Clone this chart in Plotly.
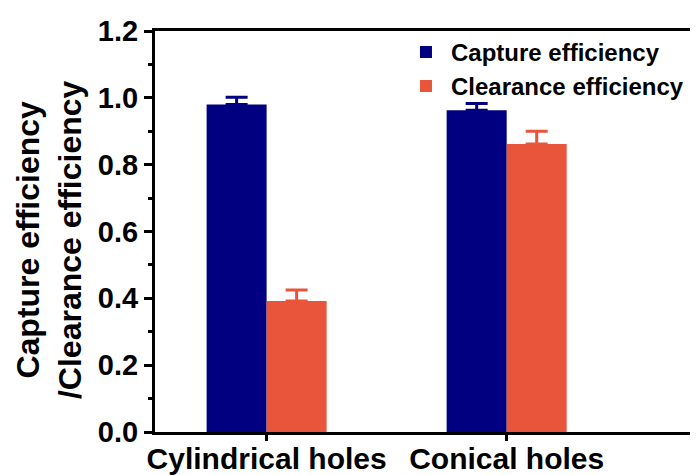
import plotly.graph_objects as go

categorias = ["Cylindrical holes", "Conical holes"]
captura = [0.98, 0.963]
captura_err = [0.022, 0.02]
limpieza = [0.392, 0.862]
limpieza_err = [0.033, 0.038]
ticks_y = [0.0, 0.2, 0.4, 0.6, 0.8, 1.0, 1.2]
ticks_y_txt = ["0.0", "0.2", "0.4", "0.6", "0.8", "1.0", "1.2"]
titulo_y = "Capture efficiency<br>/Clearance efficiency"

azul = "#000080"
rojo = "#E8553B"
fuente = "Liberation Sans, Arial, sans-serif"

fig = go.Figure()

fig.add_trace(
    go.Bar(
        x=categorias,
        y=captura,
        name="Capture efficiency",
        marker=dict(color=azul, line=dict(width=0)),
        error_y=dict(type="data", array=captura_err, symmetric=False,
                     arrayminus=[0, 0], color=azul, thickness=3, width=11),
    )
)

fig.add_trace(
    go.Bar(
        x=categorias,
        y=limpieza,
        name="Clearance efficiency",
        marker=dict(color=rojo, line=dict(width=0)),
        error_y=dict(type="data", array=limpieza_err, symmetric=False,
                     arrayminus=[0, 0], color=rojo, thickness=3, width=11),
    )
)

# la página tiene 8px de margen en el body, se compensa aquí
fig.update_layout(
    width=690,
    height=467,
    margin=dict(l=147, r=0, t=23, b=43),
    plot_bgcolor="white",
    paper_bgcolor="white",
    barmode="group",
    bargap=0.5,
    bargroupgap=0,
    font=dict(family=fuente, color="black", weight="bold"),
    legend=dict(
        x=0.453, y=1.003, xanchor="left", yanchor="top",
        font=dict(size=24, family=fuente, weight="bold"),
        bgcolor="rgba(0,0,0,0)",
        itemwidth=40,
        tracegroupgap=0,
    ),
    showlegend=True,
)

# título del eje y como anotación para poder ubicarlo igual que el original
fig.add_annotation(
    text=titulo_y,
    xref="paper", yref="paper",
    x=-0.195, y=0.479,
    xanchor="center", yanchor="middle",
    textangle=-90,
    showarrow=False,
    font=dict(size=32, family=fuente, weight="bold", color="black"),
)

fig.update_xaxes(
    range=[-0.465, 1.797],
    automargin=False,
    showline=True,
    linecolor="black",
    linewidth=3,
    mirror=True,
    ticks="outside",
    ticklen=6,
    tickwidth=3,
    tickcolor="black",
    ticklabelstandoff=-8,
    tickfont=dict(size=30, family=fuente, weight="bold"),
    showgrid=False,
)

fig.update_yaxes(
    range=[0, 1.2],
    automargin=False,
    tickvals=ticks_y,
    ticktext=ticks_y_txt,
    showline=True,
    linecolor="black",
    linewidth=3,
    ticks="outside",
    ticklen=8,
    tickwidth=3,
    tickcolor="black",
    minor=dict(dtick=0.1, ticks="outside", ticklen=4, tickwidth=3, tickcolor="black"),
    tickfont=dict(size=29, family=fuente, weight="bold"),
    showgrid=False,
    zeroline=False,
)

fig.write_html("out.html")
